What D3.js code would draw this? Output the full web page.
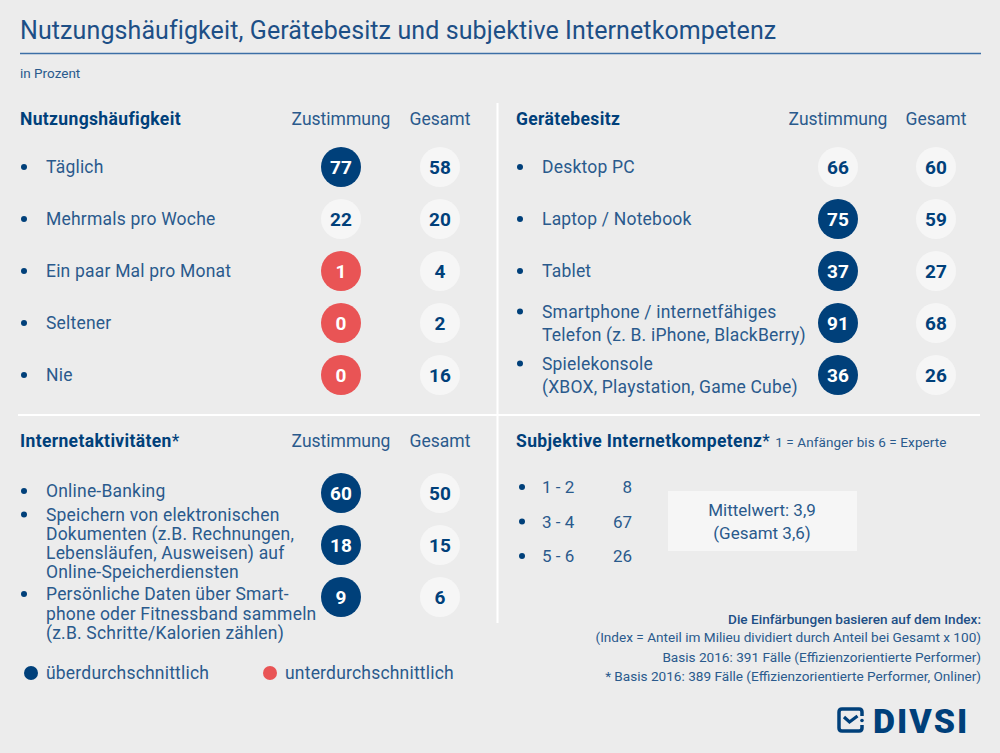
<!DOCTYPE html>
<html lang="de">
<head>
<meta charset="UTF-8">
<title>Nutzungshäufigkeit, Gerätebesitz und subjektive Internetkompetenz</title>
<script src="https://cdn.jsdelivr.net/npm/d3@7/dist/d3.min.js"></script>
<style>
  body { margin: 0; background: #ececec; }
  svg { display: block; }
  text { font-family: Roboto, "Noto Sans", sans-serif; }
</style>
</head>
<body>
<svg id="chart" width="1000" height="753"></svg>
<script>
// --- data ---
const columns = ["Zustimmung", "Gesamt"];

const nutzCats = ["Täglich", "Mehrmals pro Woche", "Ein paar Mal pro Monat", "Seltener", "Nie"];
const nutzZust = [77, 22, 1, 0, 0];
const nutzGes = [58, 20, 4, 2, 16];
const nutzIndex = ["über", "neutral", "unter", "unter", "unter"];

const geraetCats = [["Desktop PC"], ["Laptop / Notebook"], ["Tablet"],
    ["Smartphone / internetfähiges", "Telefon (z. B. iPhone, BlackBerry)"],
    ["Spielekonsole", "(XBOX, Playstation, Game Cube)"]];
const geraetZust = [66, 75, 37, 91, 36];
const geraetGes = [60, 59, 27, 68, 26];
const geraetIndex = ["neutral", "über", "über", "über", "über"];

const aktCats = [["Online-Banking"],
    ["Speichern von elektronischen", "Dokumenten (z.B. Rechnungen,", "Lebensläufen, Ausweisen) auf", "Online-Speicherdiensten"],
    ["Persönliche Daten über Smart-", "phone oder Fitnessband sammeln", "(z.B. Schritte/Kalorien zählen)"]];
const aktZust = [60, 18, 9];
const aktGes = [50, 15, 6];
const aktIndex = ["über", "über", "über"];

const kompCats = ["1 - 2", "3 - 4", "5 - 6"];
const kompVals = [8, 67, 26];
const kompMittel = ["Mittelwert: 3,9", "(Gesamt 3,6)"];

const legendItems = ["überdurchschnittlich", "unterdurchschnittlich"];
const notes = ["Die Einfärbungen basieren auf dem Index:",
    "(Index  = Anteil im Milieu dividiert durch Anteil bei Gesamt x 100)",
    "Basis 2016: 391 Fälle (Effizienzorientierte Performer)",
    "* Basis 2016: 389 Fälle (Effizienzorientierte Performer, Onliner)"];

// --- styles ---
const dark = "#00407a";
const textBlue = "#2a5a8c";
const red = "#e95455";
const light = "#f6f6f6";
const fill = d3.scaleOrdinal().domain(["über", "unter", "neutral"]).range([dark, red, light]);

const svg = d3.select("#chart");

// title
svg.append("text").attr("x", 20).attr("y", 39)
    .attr("font-size", 25).attr("fill", "#1d4f86").attr("letter-spacing", 0.1)
    .text("Nutzungshäufigkeit, Gerätebesitz und subjektive Internetkompetenz");
svg.append("line").attr("x1", 20).attr("x2", 981).attr("y1", 53.5).attr("y2", 53.5)
    .attr("stroke", "#3c6fa6").attr("stroke-width", 1.5);
svg.append("text").attr("x", 20).attr("y", 78).attr("font-size", 13.5)
    .attr("fill", textBlue).text("in Prozent");

// dividers
svg.append("line").attr("x1", 497.5).attr("x2", 497.5).attr("y1", 103).attr("y2", 623)
    .attr("stroke", "#fff").attr("stroke-width", 2);
svg.append("line").attr("x1", 18).attr("x2", 980).attr("y1", 415).attr("y2", 415)
    .attr("stroke", "#fff").attr("stroke-width", 2);

function header(x, y, title, star, colX) {
    const t = svg.append("text").attr("x", x).attr("y", y).attr("font-size", 17.5)
        .attr("fill", dark).attr("font-weight", 700).attr("letter-spacing", 0.35).text(title);
    if (star) t.append("tspan").attr("font-weight", 400).text("*");
    if (colX) {
        columns.forEach(c => {
            svg.append("text").attr("x", colX(c)).attr("y", y).attr("text-anchor", "middle")
                .attr("font-size", 17.5).attr("fill", textBlue).text(c);
        });
    }
    return t;
}

function panel(opts) {
    const { labelX, colX, y, cats, zust, ges, index, labelOffset } = opts;
    const g = svg.append("g");
    const rows = g.selectAll("g.row").data(cats.map((c, i) => ({
        lines: Array.isArray(c) ? c : [c], key: i, z: zust[i], ges: ges[i], idx: index[i]
    }))).join("g").attr("class", "row")
        .attr("transform", d => `translate(0,${y(d.key)})`);

    rows.append("circle").attr("cx", labelX - 22).attr("cy", (d) => labelOffset(d, 0) - 6)
        .attr("r", 3).attr("fill", dark);

    rows.append("text").attr("x", labelX).attr("font-size", 17.5).attr("fill", textBlue)
        .attr("letter-spacing", 0.2)
        .selectAll("tspan").data(d => d.lines.map((l, k) => ({ l, k, d })))
        .join("tspan").attr("x", labelX).attr("y", t => labelOffset(t.d, t.k))
        .text(t => t.l);

    rows.append("circle").attr("cx", colX("Zustimmung")).attr("r", 20)
        .attr("fill", d => fill(d.idx));
    rows.append("text").attr("x", colX("Zustimmung")).attr("y", 7)
        .attr("text-anchor", "middle").attr("font-size", 19).attr("font-weight", 700)
        .attr("fill", d => d.idx === "neutral" ? dark : "#fff").text(d => d.z);
    rows.append("circle").attr("cx", colX("Gesamt")).attr("r", 20).attr("fill", light);
    rows.append("text").attr("x", colX("Gesamt")).attr("y", 7)
        .attr("text-anchor", "middle").attr("font-size", 19).attr("font-weight", 700)
        .attr("fill", dark).text(d => d.ges);
}

const centered = lh => (d, k) => 6 + (k - (d.lines.length - 1) / 2) * lh;

// Nutzungshäufigkeit
const colLeft = d3.scalePoint().domain(columns).range([341, 440]);
header(20, 125, "Nutzungshäufigkeit", false, colLeft);
panel({
    labelX: 46, colX: colLeft, cats: nutzCats, zust: nutzZust, ges: nutzGes, index: nutzIndex,
    y: d3.scalePoint().domain(d3.range(nutzCats.length)).range([167, 375]),
    labelOffset: centered(23)
});

// Gerätebesitz
const colRight = d3.scalePoint().domain(columns).range([838, 936]);
header(516, 125, "Gerätebesitz", false, colRight);
panel({
    labelX: 542, colX: colRight, cats: geraetCats, zust: geraetZust, ges: geraetGes, index: geraetIndex,
    y: d3.scalePoint().domain(d3.range(geraetCats.length)).range([167, 375]),
    labelOffset: centered(23)
});

// Internetaktivitäten
header(20, 447, "Internetaktivitäten", true, colLeft);
panel({
    labelX: 46, colX: colLeft, cats: aktCats, zust: aktZust, ges: aktGes, index: aktIndex,
    y: d3.scalePoint().domain(d3.range(aktCats.length)).range([493, 597]),
    // last item hangs from the circle, the others are centred on it
    labelOffset: (d, k) => d.key === aktCats.length - 1 ? 3 + k * 19.5 : 4 + (k - (d.lines.length - 1) / 2) * 19
});

// Subjektive Internetkompetenz
const kh = header(516, 447, "Subjektive Internetkompetenz", true, null);
kh.append("tspan").attr("font-weight", 400).attr("font-size", 13.5).attr("fill", textBlue)
    .attr("letter-spacing", 0.1).attr("dx", 5).text("1 = Anfänger bis 6 = Experte");

const kompY = d3.scalePoint().domain(kompCats).range([487, 556]);
const kompRows = svg.append("g").selectAll("g").data(kompCats.map((c, i) => ({ c, v: kompVals[i] })))
    .join("g").attr("transform", d => `translate(0,${kompY(d.c)})`);
kompRows.append("circle").attr("cx", 522).attr("cy", 0).attr("r", 3).attr("fill", dark);
kompRows.append("text").attr("x", 542).attr("y", 6).attr("font-size", 17).attr("fill", textBlue)
    .text(d => d.c);
kompRows.append("text").attr("x", 632).attr("y", 6).attr("text-anchor", "end")
    .attr("font-size", 17).attr("fill", textBlue).text(d => d.v);

svg.append("rect").attr("x", 668).attr("y", 491).attr("width", 189).attr("height", 60)
    .attr("fill", "#f6f6f6");
svg.append("text").attr("text-anchor", "middle").attr("font-size", 17).attr("fill", textBlue)
    .selectAll("tspan").data(kompMittel).join("tspan")
    .attr("x", 762).attr("y", (d, i) => 516 + i * 23).text(d => d);

// legend
const legX = d3.scalePoint().domain(legendItems).range([31, 270]);
const leg = svg.append("g").selectAll("g").data(legendItems).join("g")
    .attr("transform", d => `translate(${legX(d)},673)`);
leg.append("circle").attr("r", 7).attr("fill", (d, i) => i === 0 ? dark : red);
leg.append("text").attr("x", 15).attr("y", 6).attr("font-size", 17.5).attr("fill", textBlue)
    .attr("letter-spacing", 0.2).text(d => d);

// notes
svg.append("g").selectAll("text").data(notes).join("text")
    .attr("x", 981).attr("y", (d, i) => [624, 642, 662, 681][i])
    .attr("text-anchor", "end").attr("font-size", 13.6)
    .attr("fill", (d, i) => i === 0 ? "#1d4f86" : textBlue)
    .attr("font-weight", (d, i) => i === 0 ? 500 : 400)
    .text(d => d);

// logo
const logo = svg.append("g").attr("transform", "translate(839,709)");
logo.append("path")
    .attr("d", "M20,0 H3 Q0,0 0,3 V19 Q0,22 3,22 H20 Q23,22 23,19 V16 M23,7 V3 Q23,0 20,0")
    .attr("fill", "none").attr("stroke", dark).attr("stroke-width", 3.5);
logo.append("path").attr("d", "M5,8 L10.5,13 L18.5,7").attr("fill", "none")
    .attr("stroke", dark).attr("stroke-width", 3.2);
logo.append("circle").attr("cx", 23).attr("cy", 11.5).attr("r", 1.8).attr("fill", dark);
logo.append("text").attr("x", 34).attr("y", 23.5).attr("font-size", 34).attr("font-weight", 900)
    .attr("fill", dark).attr("letter-spacing", 2).text("DIVSI");
</script>
</body>
</html>
